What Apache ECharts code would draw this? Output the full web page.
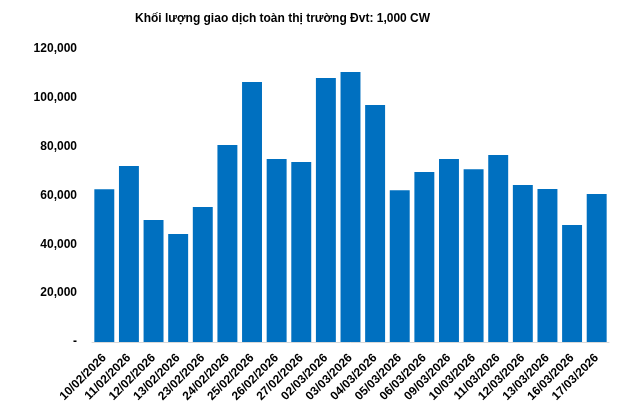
<!DOCTYPE html>
<html>
<head>
<meta charset="utf-8">
<script src="https://cdn.jsdelivr.net/npm/echarts@6/dist/echarts.min.js"></script>
<style>html,body{margin:0;padding:0;background:#fff}#c{width:641px;height:409px}</style>
</head>
<body>
<div id="c"></div>
<script>
const titleText = 'Khối lượng giao dịch toàn thị trường Đvt: 1,000 CW';
const categories = ['10/02/2026','11/02/2026','12/02/2026','13/02/2026','23/02/2026','24/02/2026','25/02/2026','26/02/2026','27/02/2026','02/03/2026','03/03/2026','04/03/2026','05/03/2026','06/03/2026','09/03/2026','10/03/2026','11/03/2026','12/03/2026','13/03/2026','16/03/2026','17/03/2026'];
const volumes = [62600, 72100, 50000, 44200, 55300, 80700, 106500, 74900, 73700, 108100, 110600, 97100, 62200, 69600, 74900, 70800, 76600, 64300, 62700, 47900, 60600];

const FONT = 'Liberation Sans';
const chart = echarts.init(document.getElementById('c'), null, {renderer: 'canvas'});
chart.setOption({
  animation: false,
  backgroundColor: '#fff',
  textStyle: {fontFamily: FONT},
  title: {
    text: titleText, left: 130, top: 8,
    textStyle: {fontFamily: FONT, fontSize: 12, fontWeight: 'bold', color: '#000'}
  },
  grid: {left: 92, right: 32, top: 49, bottom: 67, containLabel: false, outerBoundsMode: 'none'},
  xAxis: {
    type: 'category', data: categories,
    axisLine: {show: true, lineStyle: {color: '#d9d9d9', width: 1}},
    axisTick: {show: false},
    axisLabel: {interval: 0, rotate: 45, fontFamily: FONT, fontSize: 12, fontWeight: 'bold', color: '#000', margin: 14}
  },
  yAxis: {
    type: 'value', min: 0, max: 120000, interval: 20000,
    splitLine: {show: false},
    axisLine: {show: false}, axisTick: {show: false},
    axisLabel: {
      fontFamily: FONT, fontSize: 12, fontWeight: 'bold', color: '#000', margin: 15,
      formatter: v => v === 0 ? '-' : v.toLocaleString('en-US')
    }
  },
  series: [{
    type: 'bar', data: volumes, barCategoryGap: '19%',
    itemStyle: {color: '#0070C0'}
  }]
});
</script>
</body>
</html>
